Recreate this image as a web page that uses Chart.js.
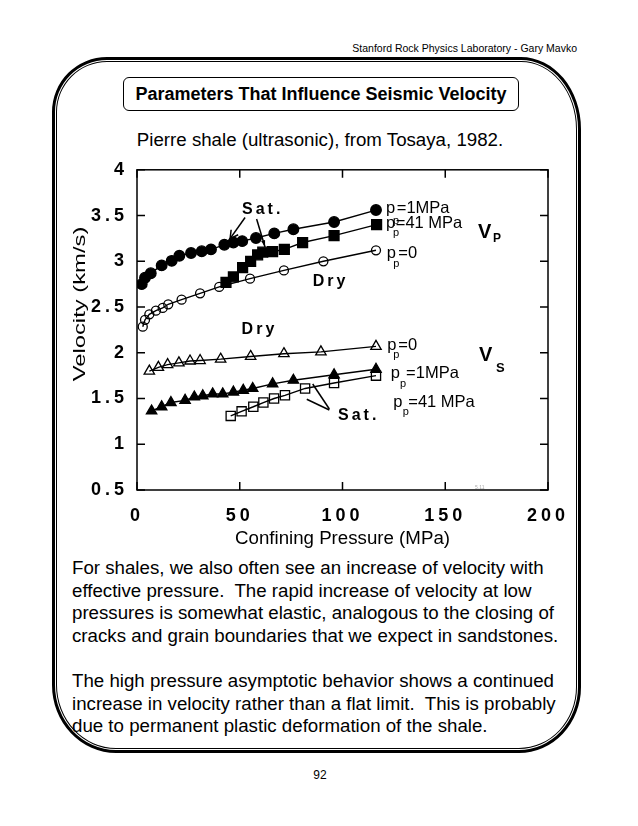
<!DOCTYPE html>
<html>
<head>
<meta charset="utf-8">
<script src="https://cdn.jsdelivr.net/npm/chart.js@4.4.1/dist/chart.umd.min.js"></script>
<style>
  body { margin: 0; background: #fff; font-family: "Liberation Sans", Arial, Helvetica, sans-serif; color: #000; }
  #page { position: relative; width: 638px; height: 826px; overflow: hidden; }
  .abs { position: absolute; }
  #head { right: 61px; top: 42px; font-size: 10.5px; line-height: 12px; white-space: nowrap; }
  #frame { left: 52px; top: 57px; width: 529px; height: 696px; box-sizing: border-box; border: 3px solid #000;
           border-radius: 55px 60px 62px 64px / 55px 72px 66px 68px; }
  #frame2 { left: 1px; top: 1px; right: 1px; bottom: 1px; border: 1px solid #000;
            border-radius: 51px 56px 58px 60px / 51px 68px 62px 64px; }
  #title { left: 123px; top: 77px; width: 396px; height: 34px; box-sizing: border-box; border: 1px solid #000;
           border-radius: 6px; display: flex; align-items: center; justify-content: center;
           font-weight: bold; font-size: 18px; }
  #sub { left: 0; width: 640px; top: 129px; line-height: 22px; font-size: 18.7px; text-align: center; }
  #para { left: 72px; top: 557px; font-size: 18.7px; line-height: 22.6px; white-space: pre; }
  #num { left: 0; width: 640px; top: 768px; font-size: 12px; line-height: 14px; text-align: center; }
  #chartBox { left: 60px; top: 150px; width: 520px; height: 400px; }
</style>
</head>
<body>
<div id="page">
  <div id="head" class="abs">Stanford Rock Physics Laboratory - Gary Mavko</div>
  <div id="frame" class="abs"><div id="frame2" class="abs"></div></div>
  <div id="title" class="abs">Parameters That Influence Seismic Velocity</div>
  <div id="sub" class="abs">Pierre shale (ultrasonic), from Tosaya, 1982.</div>
  <div id="chartBox" class="abs"><canvas id="myChart" width="520" height="400"></canvas></div>
  <div id="para" class="abs">For shales, we also often see an increase of velocity with
effective pressure.  The rapid increase of velocity at low
pressures is somewhat elastic, analogous to the closing of
cracks and grain boundaries that we expect in sandstones.

The high pressure asymptotic behavior shows a continued
increase in velocity rather than a flat limit.  This is probably
due to permanent plastic deformation of the shale.</div>
  <div id="num" class="abs">92</div>
</div>
<script>
// tick labels
var xTicks = [0, 50, 100, 150, 200];
var yTicks = [0.5, 1, 1.5, 2, 2.5, 3, 3.5, 4];

// Vp, saturated, pore pressure 1 MPa (filled circles)
var vpSat1P = [2.3, 3.9, 6.7, 12, 16.9, 20.6, 26.3, 31.5, 36, 42.5, 46.9, 51.2, 57.9, 66.8, 76.1, 95.9, 116.3];
var vpSat1V = [2.75, 2.82, 2.87, 2.955, 3.005, 3.06, 3.09, 3.11, 3.13, 3.18, 3.205, 3.22, 3.255, 3.305, 3.35, 3.43, 3.56];
// Vp, saturated, pore pressure 41 MPa (filled squares)
var vpSat41P = [43.3, 46.9, 51.4, 55.3, 58.7, 61.2, 66, 71.7, 80.6, 95.9, 116.6];
var vpSat41V = [2.77, 2.83, 2.93, 3.0, 3.07, 3.10, 3.105, 3.13, 3.205, 3.28, 3.40];
// Vp, dry (open circles)
var vpDryP = [2.8, 3.9, 6.0, 9.2, 12.5, 15.2, 21.7, 30.7, 40, 55, 71.5, 90.7, 116.3];
var vpDryV = [2.285, 2.36, 2.42, 2.46, 2.49, 2.53, 2.58, 2.65, 2.72, 2.81, 2.90, 3.0, 3.12];
// Vs, dry (open triangles)
var vsDryP = [6.0, 10.4, 14.9, 20.4, 25.8, 30.7, 40.7, 55.3, 71.5, 89.5, 116.3];
var vsDryV = [1.80, 1.84, 1.87, 1.89, 1.91, 1.915, 1.93, 1.96, 1.99, 2.01, 2.07];
// Vs, saturated, pore pressure 1 MPa (filled triangles)
var vsSat1P = [7.1, 12, 16.5, 23.4, 27.9, 32, 36.8, 41.7, 46.9, 51.7, 56.3, 66, 76.1, 95.9, 116.3];
var vsSat1V = [1.364, 1.41, 1.456, 1.48, 1.517, 1.53, 1.55, 1.55, 1.57, 1.59, 1.61, 1.66, 1.70, 1.76, 1.82];
// Vs, saturated, pore pressure 41 MPa (open squares)
var vsSat41P = [45.6, 50.9, 56.6, 61.5, 66.7, 72, 81.8, 95.9, 116.3];
var vsSat41V = [1.31, 1.36, 1.41, 1.456, 1.50, 1.535, 1.61, 1.67, 1.75];

var FONT = '"Liberation Sans", Arial, Helvetica, sans-serif';

function series(xs, ys, style, r, filled) {
  return {
    data: xs.map(function (x, i) { return { x: x, y: ys[i] }; }),
    showLine: true,
    borderColor: '#000',
    borderWidth: 1.4,
    pointStyle: style,
    pointRadius: r,
    pointBorderColor: '#000',
    pointBorderWidth: 1.3,
    pointBackgroundColor: filled ? '#000' : 'rgba(0,0,0,0)'
  };
}

// p with subscript p, then the rest of the label
function ppLabel(ctx, x, y, px, py, subDx, subDy, rest, restDx) {
  var X = x.getPixelForValue(px), Y = y.getPixelForValue(py);
  ctx.font = '16.5px ' + FONT;
  ctx.fillText('p', X, Y);
  ctx.fillText(rest, X + restDx, Y);
  ctx.font = '11px ' + FONT;
  ctx.fillText('p', X + subDx, Y + subDy);
}

function word(ctx, x, y, px, py, s, font, spacing) {
  ctx.font = font;
  ctx.letterSpacing = spacing + 'px';
  ctx.fillText(s, x.getPixelForValue(px), y.getPixelForValue(py));
  ctx.letterSpacing = '0px';
}

function pointer(ctx, x, y, p1, v1, p2, v2, head) {
  var x1 = x.getPixelForValue(p1), y1 = y.getPixelForValue(v1);
  var x2 = x.getPixelForValue(p2), y2 = y.getPixelForValue(v2);
  ctx.beginPath();
  ctx.moveTo(x1, y1);
  ctx.lineTo(x2, y2);
  ctx.stroke();
  if (!head) return;
  var a = Math.atan2(y2 - y1, x2 - x1);
  if (head === 'open') {
    ctx.beginPath();
    ctx.moveTo(x2 - 9 * Math.cos(a - 0.5), y2 - 9 * Math.sin(a - 0.5));
    ctx.lineTo(x2, y2);
    ctx.lineTo(x2 - 9 * Math.cos(a + 0.5), y2 - 9 * Math.sin(a + 0.5));
    ctx.stroke();
  } else {
    ctx.beginPath();
    ctx.moveTo(x2, y2);
    ctx.lineTo(x2 - 7 * Math.cos(a - 0.3), y2 - 7 * Math.sin(a - 0.3));
    ctx.lineTo(x2 - 7 * Math.cos(a + 0.3), y2 - 7 * Math.sin(a + 0.3));
    ctx.closePath();
    ctx.fill();
  }
}

var deco = {
  id: 'deco',
  beforeDatasetsDraw: function (chart) {
    var ctx = chart.ctx, a = chart.chartArea, x = chart.scales.x, y = chart.scales.y;
    ctx.save();
    ctx.strokeStyle = '#000';
    ctx.lineWidth = 1.5;
    ctx.strokeRect(a.left, a.top, a.right - a.left, a.bottom - a.top);
    ctx.beginPath();
    xTicks.forEach(function (v) {
      var px = x.getPixelForValue(v);
      ctx.moveTo(px, a.bottom); ctx.lineTo(px, a.bottom - 8);
      ctx.moveTo(px, a.top); ctx.lineTo(px, a.top + 8);
    });
    yTicks.forEach(function (v) {
      var py = y.getPixelForValue(v);
      ctx.moveTo(a.left, py); ctx.lineTo(a.left + 8, py);
      ctx.moveTo(a.right, py); ctx.lineTo(a.right - 8, py);
    });
    ctx.stroke();
    ctx.restore();
  },
  afterDatasetsDraw: function (chart) {
    // spaced-out tick numbers, drawn in the next layer
    chart.ctx.letterSpacing = '4px';
  },
  afterDraw: function (chart) {
    var ctx = chart.ctx, x = chart.scales.x, y = chart.scales.y;
    ctx.letterSpacing = '0px';
    ctx.save();
    ctx.fillStyle = '#000';
    ctx.strokeStyle = '#000';
    ctx.lineWidth = 1.5;
    ctx.textAlign = 'left';
    ctx.textBaseline = 'alphabetic';

    ppLabel(ctx, x, y, 121.2, 3.526, 7, 11, '=1MPa', 10.7);
    ppLabel(ctx, x, y, 121.2, 3.361, 7, 7.5, '=41 MPa', 9.7);
    ppLabel(ctx, x, y, 121.5, 3.033, 6.5, 8.5, '=0', 11.6);
    ppLabel(ctx, x, y, 121.8, 2.027, 6, 8, '=0', 11);
    ppLabel(ctx, x, y, 123.5, 1.720, 9.3, 9, '=1MPa', 15.3);
    ppLabel(ctx, x, y, 124.7, 1.410, 9.4, 8.3, '=41 MPa', 15);

    word(ctx, x, y, 165.9, 3.254, 'V', 'bold 20px ' + FONT, 0);
    word(ctx, x, y, 165.9, 3.254, '', 'bold 12px ' + FONT, 0);
    ctx.font = 'bold 12px ' + FONT;
    ctx.fillText('P', x.getPixelForValue(165.9) + 15, y.getPixelForValue(3.254) + 4);
    word(ctx, x, y, 166.4, 1.910, 'V', 'bold 20px ' + FONT, 0);
    ctx.font = 'bold 13px ' + FONT;
    ctx.fillText('S', x.getPixelForValue(166.4) + 17, y.getPixelForValue(1.910) + 11);

    word(ctx, x, y, 51.1, 3.518, 'Sat.', 'bold 16px ' + FONT, 3);
    word(ctx, x, y, 85.5, 2.729, 'Dry', 'bold 16px ' + FONT, 3);
    word(ctx, x, y, 50.9, 2.202, 'Dry', 'bold 16px ' + FONT, 3);
    word(ctx, x, y, 97.8, 1.267, 'Sat.', 'bold 16px ' + FONT, 3);

    pointer(ctx, x, y, 52.6, 3.478, 45.3, 3.247, 'open');
    pointer(ctx, x, y, 58.2, 3.462, 62.3, 3.157, 'solid');
    pointer(ctx, x, y, 93.6, 1.374, 82.6, 1.492, null);
    pointer(ctx, x, y, 93.6, 1.385, 85.5, 1.659, null);

    ctx.fillStyle = '#aaa';
    ctx.font = '5px ' + FONT;
    ctx.fillText('5.11', x.getPixelForValue(164.5), y.getPixelForValue(0.51));

    // y axis title, stretched like the original
    ctx.fillStyle = '#000';
    ctx.translate(20, 154);
    ctx.rotate(-Math.PI / 2);
    ctx.scale(1.4, 1);
    ctx.textAlign = 'center';
    ctx.textBaseline = 'middle';
    ctx.font = '17px ' + FONT;
    ctx.fillText('Velocity (km/s)', 0, 0);
    ctx.restore();
  }
};

var ctx = document.getElementById('myChart').getContext('2d');
var myChart = new Chart(ctx, {
  type: 'scatter',
  data: {
    datasets: [
      series(vpDryP, vpDryV, 'circle', 4.5, false),
      series(vpSat41P, vpSat41V, 'rect', 7, true),
      series(vpSat1P, vpSat1V, 'circle', 5.3, true),
      series(vsDryP, vsDryV, 'triangle', 6, false),
      series(vsSat41P, vsSat41V, 'rect', 6.5, false),
      series(vsSat1P, vsSat1V, 'triangle', 6, true)
    ]
  },
  options: {
    responsive: false,
    animation: false,
    layout: { padding: { top: 13, right: 32, left: 0, bottom: 0 } },
    plugins: {
      legend: { display: false },
      tooltip: { enabled: false }
    },
    scales: {
      x: {
        type: 'linear',
        min: 0,
        max: 200,
        afterBuildTicks: function (s) { s.ticks = xTicks.map(function (v) { return { value: v }; }); },
        afterFit: function (s) { s.height = 60; },
        grid: { display: false, drawTicks: false },
        border: { display: false },
        ticks: {
          z: 1, padding: 15, color: '#000', maxRotation: 0, autoSkip: false,
          font: { family: FONT, size: 18, weight: 'bold' },
          callback: function (v) { return String(v); }
        },
        title: {
          display: true, text: 'Confining Pressure (MPa)', color: '#000',
          font: { family: FONT, size: 18.7 }, padding: { top: 0, bottom: 0 }
        }
      },
      y: {
        type: 'linear',
        min: 0.5,
        max: 4,
        afterBuildTicks: function (s) { s.ticks = yTicks.map(function (v) { return { value: v }; }); },
        afterFit: function (s) { s.width = 77; },
        grid: { display: false, drawTicks: false },
        border: { display: false },
        ticks: {
          z: 1, padding: 9, color: '#000', autoSkip: false,
          font: { family: FONT, size: 18, weight: 'bold' },
          callback: function (v) { return String(v); }
        }
      }
    }
  },
  plugins: [deco]
});
</script>
</body>
</html>
